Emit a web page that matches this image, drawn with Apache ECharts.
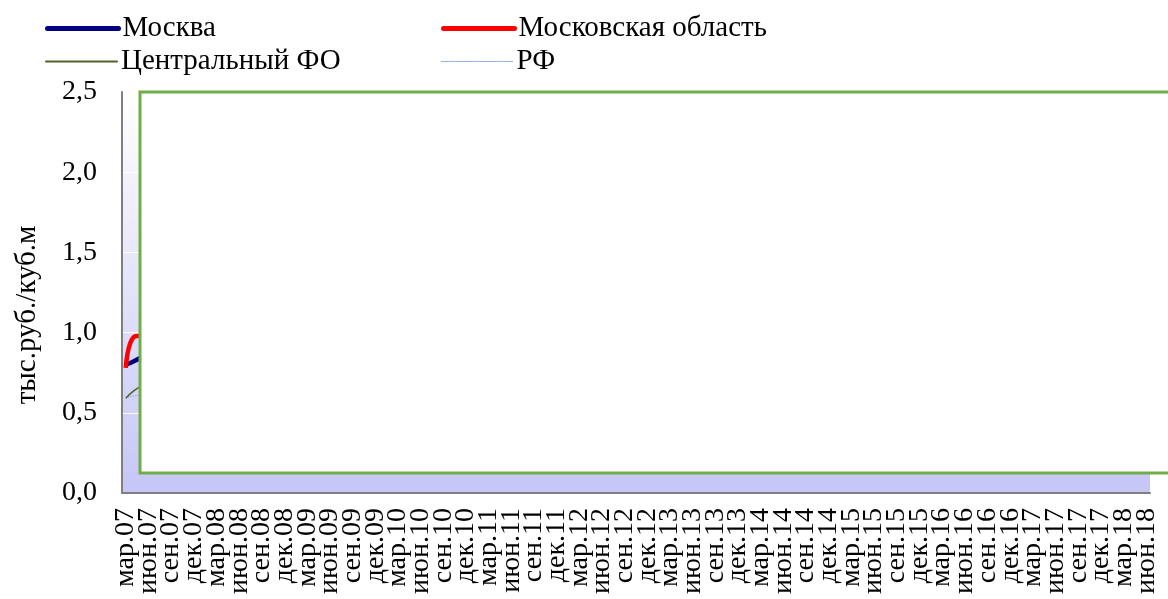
<!DOCTYPE html>
<html>
<head>
<meta charset="utf-8">
<script src="https://cdn.jsdelivr.net/npm/echarts@6/dist/echarts.min.js"></script>
<style>
html,body{margin:0;padding:0;background:#fff;}
#chart{width:1168px;height:599px;}
</style>
</head>
<body>
<div id="chart"></div>
<script>
// Monthly categories from мар.07 to июн.18
var monthNames = ['янв','фев','мар','апр','май','июн','июл','авг','сен','окт','ноя','дек'];
var startYear = 2007, startMonth = 2, endYear = 2018, endMonth = 5;
var categories = [];
for (var y = startYear; y <= endYear; y++) {
  var m0 = (y === startYear) ? startMonth : 0;
  var m1 = (y === endYear) ? endMonth : 11;
  for (var m = m0; m <= m1; m++) {
    categories.push(monthNames[m] + '.' + String(y % 100).padStart(2, '0'));
  }
}

// Values visible in the reference (rest hidden by the overlay)
var moscow      = [0.80, 0.82, 0.845];
var moscowObl   = [0.78, 0.97, 0.98];
var centralFO   = [0.59, 0.635, 0.665];
var rf          = [0.595, 0.605, 0.61];

var yTicks = [0, 0.5, 1.0, 1.5, 2.0, 2.5];
var labelEvery = 3;

var serif = 'Liberation Serif';
var chart = echarts.init(document.getElementById('chart'));

function legendAt(name, left, top, lw, dash) {
  return {
    data: [name], left: left, top: top, padding: 0,
    itemWidth: 71, itemHeight: 14, itemGap: 0,
    itemStyle: {opacity: 0, color: 'rgba(0,0,0,0)', borderWidth: 0},
    lineStyle: {width: lw, type: dash || 'solid', cap: 'round'},
    textStyle: {fontFamily: serif, fontSize: 29, color: '#000', padding: [0,0,0,-1]},
    selectedMode: false
  };
}

chart.setOption({
  animation: false,
  textStyle: {fontFamily: serif},
  legend: [
    legendAt('Москва', 45, 14, 5),
    legendAt('Московская область', 441, 14, 5),
    legendAt('Центральный ФО', 45, 47, 2),
    legendAt('РФ', 441, 47, 1.2, 'dotted')
  ],
  grid: {
    left: 122, right: 18, top: 92, bottom: 106,
    show: true, borderWidth: 0,
    backgroundColor: new echarts.graphic.LinearGradient(0, 0, 0, 1, [
      {offset: 0, color: '#ffffff'},
      {offset: 1, color: '#c6c6f7'}
    ])
  },
  xAxis: {
    type: 'category',
    data: categories,
    boundaryGap: true,
    axisLine: {lineStyle: {color: '#7f7f7f', width: 2}},
    axisTick: {show: false},
    axisLabel: {
      interval: 0, rotate: 90, margin: 15, hideOverlap: false,
      fontFamily: serif, fontSize: 28, color: '#000',
      formatter: function (v, idx) { return idx % labelEvery === 0 ? v : ''; }
    },
    splitLine: {show: false}
  },
  yAxis: {
    type: 'value',
    min: yTicks[0], max: yTicks[yTicks.length - 1], interval: 0.5,
    axisLine: {show: true, lineStyle: {color: '#7f7f7f', width: 2}},
    axisTick: {show: false},
    axisLabel: {
      margin: 25, fontFamily: serif, fontSize: 28, color: '#000',
      formatter: function (v) { return v.toFixed(1).replace('.', ','); }
    },
    splitLine: {lineStyle: {color: '#ffffff', width: 1}}
  },
  series: [
    {name: 'Москва', type: 'line', data: moscow, smooth: true, symbol: 'none',
     lineStyle: {color: '#000080', width: 4.5}, itemStyle: {color: '#000080'}, z: 3},
    {name: 'Московская область', type: 'line', data: moscowObl, smooth: true, symbol: 'none',
     lineStyle: {color: '#ff0000', width: 4.5}, itemStyle: {color: '#ff0000'}, z: 4},
    {name: 'Центральный ФО', type: 'line', data: centralFO, smooth: true, symbol: 'none',
     lineStyle: {color: '#4f6228', width: 1.5}, itemStyle: {color: '#4f6228'}, z: 2},
    {name: 'РФ', type: 'line', data: rf, smooth: true, symbol: 'none',
     lineStyle: {color: '#8ea9db', width: 1.2, type: 'dotted'}, itemStyle: {color: '#8ea9db'}, z: 1}
  ],
  graphic: [
    {type: 'rect', z: 100, shape: {x: 140, y: 92, width: 1060, height: 381},
     style: {fill: '#ffffff', stroke: '#70ad47', lineWidth: 3}},
    {type: 'text', z: 100, x: 27, y: 315, rotation: Math.PI / 2,
     style: {text: 'тыс.руб./куб.м', fontFamily: serif, fontSize: 29, fill: '#000',
             align: 'center', verticalAlign: 'middle'}}
  ]
});
</script>
</body>
</html>
